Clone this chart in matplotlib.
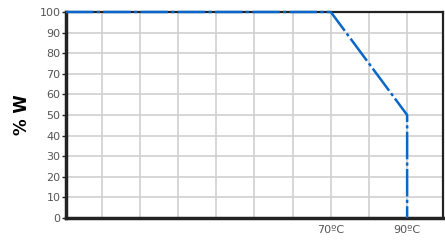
import matplotlib
matplotlib.use("Agg")
import matplotlib.pyplot as plt

temps = [0.6, 70, 90, 90]
power = [100, 100, 50, 0]
yticks = [0, 10, 20, 30, 40, 50, 60, 70, 80, 90, 100]
xgrid = [10, 20, 30, 40, 50, 60, 70, 80, 90]
xlabels = {70: "70ºC", 90: "90ºC"}

fig = plt.figure(figsize=(4.45, 2.42), dpi=100)
ax = fig.add_axes([66/445, 1-218/242, (443-66)/445, (218-12)/242])
ax.set_xlim(0.6, 99.4)
ax.set_ylim(0, 100)
ax.set_yticks(yticks)
ax.set_yticklabels([str(v) for v in yticks], color="#555555", fontsize=8)
ax.set_xticks(xgrid)
ax.set_xticklabels([xlabels.get(v, "") for v in xgrid], color="#555555", fontsize=8)
ax.grid(True, color="#d0d0d0", linewidth=1.2)
ax.set_axisbelow(True)
ax.tick_params(axis="x", length=0, pad=5)
ax.tick_params(axis="y", length=3, width=1, color="#222222", pad=1)
for s in ["left", "bottom"]:
    ax.spines[s].set_linewidth(2.5)
    ax.spines[s].set_color("#222222")
for s in ["top", "right"]:
    ax.spines[s].set_linewidth(1.6)
    ax.spines[s].set_color("#222222")
ax.plot(temps, power, color="#0a66c8", linewidth=1.8,
        dashes=[11, 1.3, 1.3, 1.3], clip_on=False, zorder=5)
ax.set_ylabel("% W", fontsize=12, fontweight="bold", labelpad=6)
fig.savefig("out.png", dpi=100)
